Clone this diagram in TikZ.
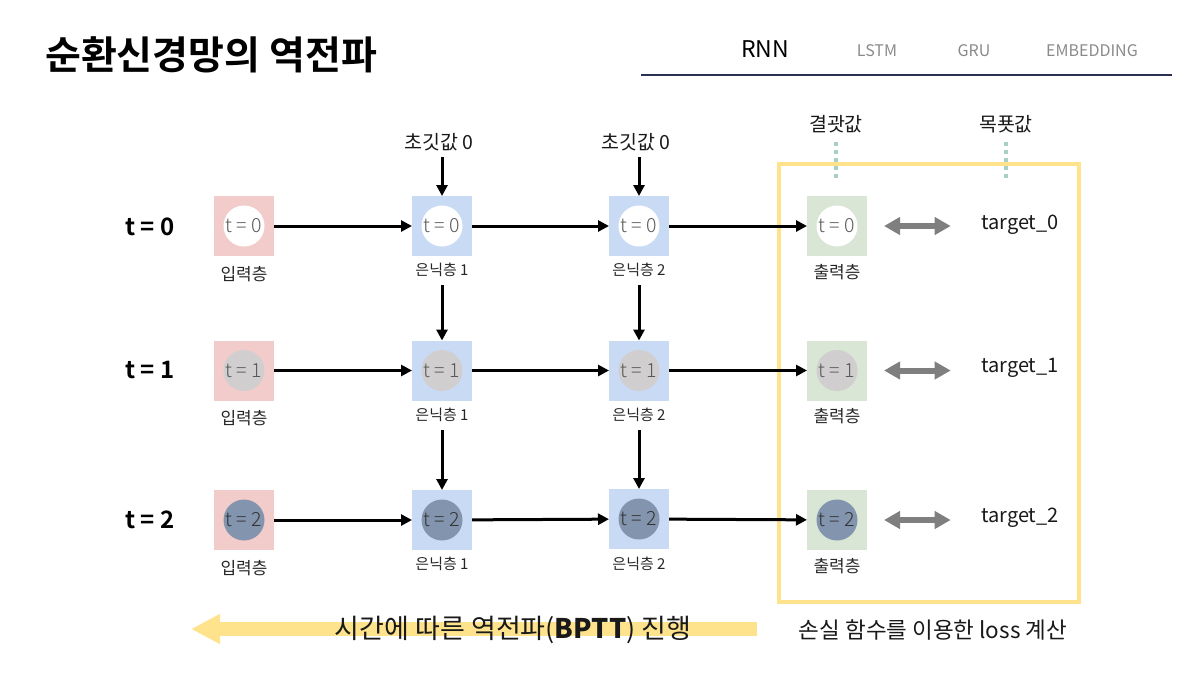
\documentclass[tikz,border=0pt]{standalone}
\usepackage{fontspec}
\setmainfont{Noto Sans CJK KR}
\IfFontExistsTF{Noto Sans CJK KR Light}{\newfontfamily\lightfont{Noto Sans CJK KR Light}}{\newfontfamily\lightfont{Noto Sans CJK KR}}
\IfFontExistsTF{Noto Sans CJK KR Black}{\newfontfamily\blackfont{Noto Sans CJK KR Black}}{\newfontfamily\blackfont{Noto Sans CJK KR}[UprightFont=*,BoldFont=*]}
\usetikzlibrary{arrows.meta}
\definecolor{inpink}{HTML}{F2CCCA}
\definecolor{hidblue}{HTML}{C9DAF5}
\definecolor{outgreen}{HTML}{D9E5D5}
\definecolor{cgray}{HTML}{D0CECE}
\definecolor{cslate}{HTML}{8395AE}
\definecolor{yel}{HTML}{FFE38C}
\definecolor{dotc}{HTML}{A9D0C6}
\definecolor{navy}{HTML}{2B3050}
\definecolor{grayarrow}{HTML}{7F7F7F}
\definecolor{navgray}{HTML}{8A8A8A}
\tikzset{
  lay/.style={minimum size=60pt, inner sep=0pt, outer sep=0pt},
  inl/.style={lay, fill=inpink},
  hidl/.style={lay, fill=hidblue},
  outl/.style={lay, fill=outgreen},
  cir/.style={circle, minimum size=41pt, inner sep=0pt, font=\lightfont\fontsize{19.5}{19.5}\selectfont},
  cz/.style={cir, fill=white, text=black!65},
  co/.style={cir, fill=cgray, text=black!65},
  ct/.style={cir, fill=cslate, text=black!80},
  sublab/.style={font=\fontsize{17}{17}\selectfont, text=black!85},
  hidlab/.style={font=\fontsize{15}{15}\selectfont, text=black!85},
  rowlab/.style={font=\blackfont\bfseries\fontsize{24}{24}\selectfont},
  toplab/.style={font=\fontsize{19.5}{19.5}\selectfont, text=black!90},
  tgt/.style={font=\fontsize{20}{20}\selectfont, text=black!90},
  harrow/.style={line width=3pt, -{Triangle[length=11pt,width=11pt]}},
  darrow/.style={line width=6pt, draw=grayarrow, {Triangle[length=16pt,width=17pt]}-{Triangle[length=16pt,width=17pt]}},
  dotl/.style={line width=4pt, draw=dotc, dash pattern=on 4pt off 4pt},
  navlab/.style={font=\fontsize{16}{16}\selectfont, text=navgray},
}
\begin{document}
\begin{tikzpicture}[x=1pt,y=-1pt]
\useasboundingbox (0,0) rectangle (1196,675);
% title
\node[anchor=west, inner sep=0pt, font=\blackfont\bfseries\fontsize{39}{39}\selectfont] (title) at (45,55) {순환신경망의 역전파};
% nav
\node[font=\fontsize{23}{23}\selectfont] (nrnn) at (765,49) {RNN};
\node[navlab] (nlstm) at (877,51) {LSTM};
\node[navlab] (ngru) at (974,51) {GRU};
\node[navlab] (nemb) at (1092,51) {EMBEDDING};
\draw[navy, line width=1.5pt] (641,75) -- (1172,75);
% yellow loss box
\draw[yel, line width=4pt] (779,164) rectangle (1079,602);
% top labels
\node[toplab] (ini1) at (439,142) {초깃값 0};
\node[toplab] (ini2) at (636,142) {초깃값 0};
\node[toplab] (res) at (836,124) {결괏값};
\node[toplab] (tgv) at (1006,124) {목푯값};
\coordinate (rese) at (836,179);
\coordinate (tgve) at (1006,179);
\draw[dotl, shorten <=6pt] (res.south) -- (rese);
\draw[dotl, shorten <=6pt] (tgv.south) -- (tgve);
% row labels
\node[rowlab] (r0) at (150,227) {t = 0};
\node[rowlab] (r1) at (150,370) {t = 1};
\node[rowlab] (r2) at (150,520) {t = 2};
% row 0
\node[inl] (i0) at (244,226) {};
\node[hidl] (ha0) at (442,226) {};
\node[hidl] (hb0) at (639,226) {};
\node[outl] (o0) at (837,226) {};
\node[cz] at (i0) {t = 0};
\node[cz] at (ha0) {t = 0};
\node[cz] at (hb0) {t = 0};
\node[cz] at (o0) {t = 0};
% row 1
\node[inl] (i1) at (244,370.5) {};
\node[hidl] (ha1) at (442,370.5) {};
\node[hidl] (hb1) at (639,370.5) {};
\node[outl] (o1) at (837,370.5) {};
\node[co] at (i1) {t = 1};
\node[co] at (ha1) {t = 1};
\node[co] at (hb1) {t = 1};
\node[co] at (o1) {t = 1};
% row 2
\node[inl] (i2) at (244,520) {};
\node[hidl] (ha2) at (442,520) {};
\node[hidl] (hb2) at (639,519) {};
\node[outl] (o2) at (837,520) {};
\node[ct] at (i2) {t = 2};
\node[ct] at (ha2) {t = 2};
\node[ct] at (hb2) {t = 2};
\node[ct] at (o2) {t = 2};
% sublabels
\foreach \r/\y in {0/226,1/370.5,2/520}{
  \node[sublab] (li\r) at (244,\y+48) {입력층};
  \node[hidlab] (lha\r) at (442,\y+44) {은닉층 1};
  \node[hidlab] (lhb\r) at (639,\y+44) {은닉층 2};
  \node[sublab] (lo\r) at (837,\y+46) {출력층};
}
% targets
\node[tgt] (tg0) at (1020,225) {target\_0};
\node[tgt] (tg1) at (1020,368) {target\_1};
\node[tgt] (tg2) at (1020,518) {target\_2};
% horizontal arrows
\foreach \r in {0,1,2}{
  \draw[harrow] (i\r) -- (ha\r);
  \draw[harrow] (ha\r) -- (hb\r);
  \draw[harrow] (hb\r) -- (o\r);
  \draw[darrow, shorten <=17pt, shorten >=27pt] (o\r.east) -- (o\r.east -| tg\r.west);
}
% vertical arrows
\draw[harrow, shorten <=3pt] (ha0.north |- ini1.south) -- (ha0.north);
\draw[harrow, shorten <=3pt] (hb0.north |- ini2.south) -- (hb0.north);
\draw[harrow, shorten <=5pt] (ha0.north |- lha0.south) -- (ha1.north);
\draw[harrow, shorten <=5pt] (hb0.north |- lhb0.south) -- (hb1.north);
\draw[harrow, shorten <=5pt] (ha1.north |- lha1.south) -- (ha2.north);
\draw[harrow, shorten <=5pt] (hb1.north |- lhb1.south) -- (hb2.north);
% bottom
\coordinate (ya) at (757,629);
\coordinate (yb) at (191,629);
\draw[yel, line width=13.5pt, -{Triangle[length=29pt,width=28pt]}] (ya) -- (yb);
\node[font=\fontsize{27}{27}\selectfont, text=black!90] (bptt) at (513,630) {시간에 따른 역전파(\textbf{BPTT}) 진행};
\node[font=\fontsize{22.5}{22.5}\selectfont, text=black!90] (loss) at (933,630) {손실 함수를 이용한 loss 계산};
\end{tikzpicture}
\end{document}
